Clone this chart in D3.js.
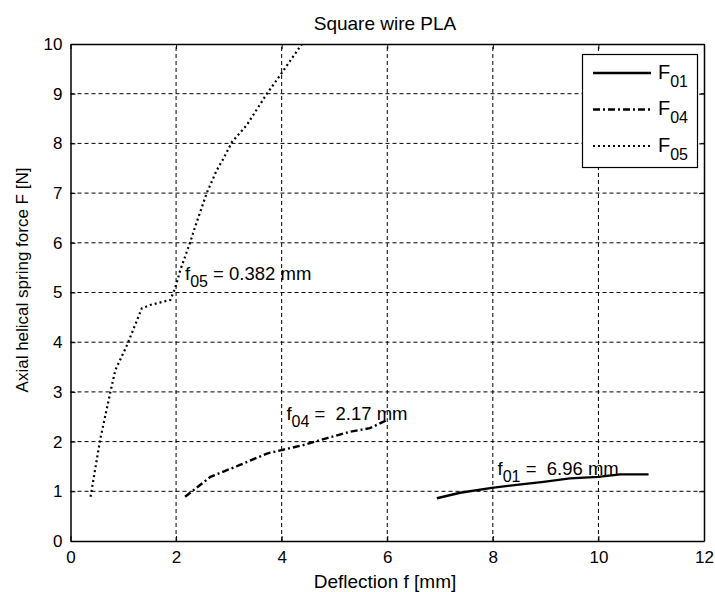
<!DOCTYPE html>
<html>
<head>
<meta charset="utf-8">
<script src="https://cdn.jsdelivr.net/npm/d3@7"></script>
<style>
  body { margin: 0; background: #fff; }
  svg text { font-family: "Liberation Sans", Arial, sans-serif; fill: #000; }
</style>
</head>
<body>
<div id="viz_container" style="width:715px;height:592px;"></div>
<script>
// Chart values
const xTicks = [0, 2, 4, 6, 8, 10, 12];
const yTicks = [0, 1, 2, 3, 4, 5, 6, 7, 8, 9, 10];

const f01X = [6.94, 7.38, 7.98, 8.45, 8.96, 9.46, 10.0, 10.41, 10.95];
const f01Y = [0.86, 0.97, 1.07, 1.13, 1.19, 1.26, 1.29, 1.34, 1.34];

const f04X = [2.17, 2.65, 3.21, 3.72, 4.0, 4.41, 4.86, 5.30, 5.67, 5.99];
const f04Y = [0.89, 1.29, 1.53, 1.76, 1.83, 1.93, 2.07, 2.20, 2.27, 2.43];

const f05X = [0.38, 0.56, 0.75, 0.85, 1.07, 1.35, 1.51, 1.89, 1.98, 2.08, 2.27, 2.36, 2.58, 2.77, 2.90, 3.06, 3.34, 3.72, 3.97, 4.35, 4.42];
const f05Y = [0.89, 2.03, 2.97, 3.44, 3.94, 4.68, 4.75, 4.85, 5.08, 5.45, 6.02, 6.32, 7.0, 7.46, 7.70, 8.03, 8.37, 9.0, 9.37, 9.95, 10.05];

const seriesNames = ["01", "04", "05"];
const annotations = [
  { sub: "05", text: " = 0.382 mm", x: 2.17, y: 5.25 },
  { sub: "04", text: " =  2.17 mm", x: 4.09, y: 2.43 },
  { sub: "01", text: " =  6.96 mm", x: 8.09, y: 1.33 }
];

const width = 715, height = 592;
const svg = d3.select("#viz_container").append("svg")
  .attr("width", width).attr("height", height);

const x = d3.scaleLinear().domain([0, 12]).range([70.5, 704]);
const y = d3.scaleLinear().domain([0, 10]).range([541, 44]);

// grid
const grid = svg.append("g");
grid.selectAll("line.gx").data(xTicks.slice(1, -1)).enter().append("line")
  .attr("x1", d => x(d)).attr("x2", d => x(d))
  .attr("y1", y(0)).attr("y2", y(10))
  .attr("stroke", "#000").attr("stroke-width", 1).attr("stroke-dasharray", "4,3");
grid.selectAll("line.gy").data(yTicks.slice(1, -1)).enter().append("line")
  .attr("y1", d => y(d)).attr("y2", d => y(d))
  .attr("x1", x(0)).attr("x2", x(12))
  .attr("stroke", "#000").attr("stroke-width", 1).attr("stroke-dasharray", "4,3");

// axes (ticks inward)
const xAxis = svg.append("g").attr("transform", `translate(0,${y(0)})`)
  .call(d3.axisBottom(x).tickValues(xTicks).tickSizeInner(-5).tickSizeOuter(0).tickPadding(10));
const xAxisTop = svg.append("g").attr("transform", `translate(0,${y(10)})`)
  .call(d3.axisTop(x).tickValues(xTicks).tickSizeInner(-5).tickSizeOuter(0).tickFormat(""));
const yAxis = svg.append("g").attr("transform", `translate(${x(0)},0)`)
  .call(d3.axisLeft(y).tickValues(yTicks).tickSizeInner(-5).tickSizeOuter(0).tickPadding(8));
const yAxisR = svg.append("g").attr("transform", `translate(${x(12)},0)`)
  .call(d3.axisRight(y).tickValues(yTicks).tickSizeInner(-5).tickSizeOuter(0).tickFormat(""));
[xAxis, xAxisTop, yAxis, yAxisR].forEach(a => {
  a.select(".domain").attr("stroke", "#000").attr("stroke-width", 1.5);
  a.selectAll(".tick line").attr("stroke", "#000");
  a.selectAll("text").attr("font-size", 17).style("font-family", "Liberation Sans, Arial, sans-serif");
});

// clip to plot area
svg.append("clipPath").attr("id", "clip").append("rect")
  .attr("x", x(0)).attr("y", y(10)).attr("width", x(12) - x(0)).attr("height", y(0) - y(10));

const lineGen = d3.line().x(d => x(d[0])).y(d => y(d[1]));
const plot = svg.append("g").attr("clip-path", "url(#clip)");

const styles = {
  "01": { dash: null, w: 2.4 },
  "04": { dash: "7,3,2,3", w: 2.4 },
  "05": { dash: "2,3", w: 2.2 }
};
const seriesData = {
  "01": d3.zip(f01X, f01Y),
  "04": d3.zip(f04X, f04Y),
  "05": d3.zip(f05X, f05Y)
};
seriesNames.forEach(n => {
  plot.append("path").datum(seriesData[n])
    .attr("d", lineGen).attr("fill", "none").attr("stroke", "#000")
    .attr("stroke-width", styles[n].w)
    .attr("stroke-dasharray", styles[n].dash);
});

// annotations
annotations.forEach(a => {
  const t = svg.append("text").attr("x", x(a.x)).attr("y", y(a.y))
    .attr("font-size", 18.5).style("white-space", "pre");
  t.append("tspan").text("f");
  t.append("tspan").attr("dy", 7).attr("font-size", 16).text(a.sub);
  t.append("tspan").attr("dy", -7).text(a.text);
});

// legend
const legend = svg.append("g");
legend.append("rect").attr("x", 582.5).attr("y", 54.5).attr("width", 115).attr("height", 113)
  .attr("fill", "#fff").attr("stroke", "#000").attr("stroke-width", 1.2);
seriesNames.forEach((n, i) => {
  const ly = 73 + i * 36.5;
  legend.append("line").attr("x1", 593).attr("x2", 651).attr("y1", ly).attr("y2", ly)
    .attr("stroke", "#000").attr("stroke-width", styles[n].w)
    .attr("stroke-dasharray", styles[n].dash);
  const t = legend.append("text").attr("x", 658).attr("y", ly + 5.5).attr("font-size", 20);
  t.append("tspan").text("F");
  t.append("tspan").attr("dy", 8).attr("font-size", 16).text(n);
});

// title and axis labels
svg.append("text").attr("x", 385).attr("y", 30).attr("text-anchor", "middle")
  .attr("font-size", 19).text("Square wire PLA");
svg.append("text").attr("x", 385).attr("y", 588).attr("text-anchor", "middle")
  .attr("font-size", 19).text("Deflection f [mm]");
svg.append("text").attr("transform", "translate(28,280) rotate(-90)")
  .attr("text-anchor", "middle").attr("font-size", 17).text("Axial helical spring force F [N]");
</script>
</body>
</html>
